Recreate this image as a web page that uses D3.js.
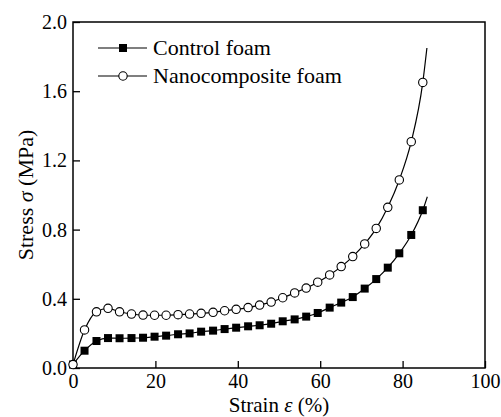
<!DOCTYPE html>
<html>
<head>
<meta charset="utf-8">
<script src="https://cdn.jsdelivr.net/npm/d3@7"></script>
<style>
  body { margin: 0; background: #fff; }
  svg text { font-family: "Liberation Serif", "Times New Roman", serif; fill: #000; }
</style>
</head>
<body>
<div id="container"></div>
<script>
// Data
const strain = [0, 2.8, 5.7, 8.5, 11.3, 14.2, 17.0, 19.8, 22.6, 25.5, 28.3, 31.1, 34.0, 36.8, 39.6,
                42.5, 45.3, 48.1, 50.9, 53.8, 56.6, 59.4, 62.3, 65.1, 67.9, 70.8, 73.6, 76.4, 79.2, 82.1, 84.9];
const controlStress = [0.02, 0.10, 0.156, 0.173, 0.172, 0.173, 0.175, 0.181, 0.187, 0.195, 0.200, 0.210, 0.216, 0.225, 0.233,
                       0.241, 0.247, 0.256, 0.270, 0.281, 0.297, 0.318, 0.349, 0.378, 0.410, 0.459, 0.514, 0.580, 0.663, 0.769, 0.912];
const nanoStress = [0.02, 0.22, 0.325, 0.345, 0.325, 0.312, 0.306, 0.305, 0.305, 0.308, 0.312, 0.316, 0.322, 0.331, 0.339,
                    0.349, 0.364, 0.381, 0.406, 0.434, 0.462, 0.496, 0.538, 0.586, 0.644, 0.717, 0.807, 0.929, 1.087, 1.308, 1.651];
// where each line ends (no marker)
const controlEnd = [86.0, 0.99];
const nanoEnd = [85.9, 1.85];

const xTicks = [0, 20, 40, 60, 80, 100];
const yTicks = [0, 0.4, 0.8, 1.2, 1.6, 2.0];
const legendLabels = ["Control foam", "Nanocomposite foam"];

const margin = { top: 22, right: 16, bottom: 49, left: 73 },
      width = 501 - margin.left - margin.right,
      height = 417 - margin.top - margin.bottom;

const svg = d3.select("#container").append("svg")
    .attr("width", 501)
    .attr("height", 417);

const g = svg.append("g")
    .attr("transform", `translate(${margin.left},${margin.top})`);

const x = d3.scaleLinear().domain([0, 100]).range([0, width]);
const y = d3.scaleLinear().domain([0, 2.0]).range([height, 0]);

// axes with inward ticks
const xAxis = g.append("g")
    .attr("transform", `translate(0,${height})`)
    .call(d3.axisBottom(x).tickValues(xTicks).tickSize(-7).tickPadding(6).tickFormat(d3.format("d")));
const yAxis = g.append("g")
    .call(d3.axisLeft(y).tickValues(yTicks).tickSize(-7).tickPadding(6).tickFormat(d3.format(".1f")));

[xAxis, yAxis].forEach(a => {
    a.select(".domain").remove();
    a.selectAll("line").attr("stroke", "#000").attr("stroke-width", 1.3);
    a.selectAll("text").style("font-size", "20px");
});

// frame
g.append("rect")
    .attr("width", width)
    .attr("height", height)
    .attr("fill", "none")
    .attr("stroke", "#000")
    .attr("stroke-width", 1.5);

const series = [
    { name: legendLabels[0], values: controlStress, end: controlEnd, marker: "square" },
    { name: legendLabels[1], values: nanoStress, end: nanoEnd, marker: "circle" }
];

const line = d3.line()
    .x(d => x(d[0]))
    .y(d => y(d[1]))
    .curve(d3.curveMonotoneX);

function drawMarker(sel, type) {
    if (type === "square") {
        sel.append("rect")
            .attr("x", -4).attr("y", -4)
            .attr("width", 8).attr("height", 8)
            .attr("fill", "#000");
    } else {
        sel.append("circle")
            .attr("r", 4.2)
            .attr("fill", "#fff")
            .attr("stroke", "#000")
            .attr("stroke-width", 1.1);
    }
}

series.forEach(s => {
    const pts = strain.map((e, i) => [e, s.values[i]]);
    g.append("path")
        .datum(pts.concat([s.end]))
        .attr("fill", "none")
        .attr("stroke", "#000")
        .attr("stroke-width", 1.2)
        .attr("d", line);

    g.selectAll(null)
        .data(pts)
        .enter().append("g")
        .attr("transform", d => `translate(${x(d[0])},${y(d[1])})`)
        .each(function() { drawMarker(d3.select(this), s.marker); });
});

// legend
const legend = svg.append("g").attr("transform", "translate(98,48)");
series.forEach((s, i) => {
    const row = legend.append("g").attr("transform", `translate(0,${i * 28})`);
    row.append("line")
        .attr("x1", 0).attr("x2", 49)
        .attr("stroke", "#000").attr("stroke-width", 1.1);
    drawMarker(row.append("g").attr("transform", "translate(25,0)"), s.marker);
    row.append("text")
        .attr("x", 55)
        .attr("dy", "0.33em")
        .style("font-size", "22px")
        .text(s.name);
});

// axis labels
const xl = svg.append("text")
    .attr("x", margin.left + width / 2)
    .attr("y", 412)
    .style("text-anchor", "middle")
    .style("font-size", "21px");
xl.append("tspan").text("Strain ");
xl.append("tspan").style("font-style", "italic").text("ε");
xl.append("tspan").text(" (%)");

const yl = svg.append("text")
    .attr("transform", `translate(33,${margin.top + height / 2}) rotate(-90)`)
    .style("text-anchor", "middle")
    .style("font-size", "22px");
yl.append("tspan").text("Stress ");
yl.append("tspan").style("font-style", "italic").text("σ");
yl.append("tspan").text(" (MPa)");
</script>
</body>
</html>
